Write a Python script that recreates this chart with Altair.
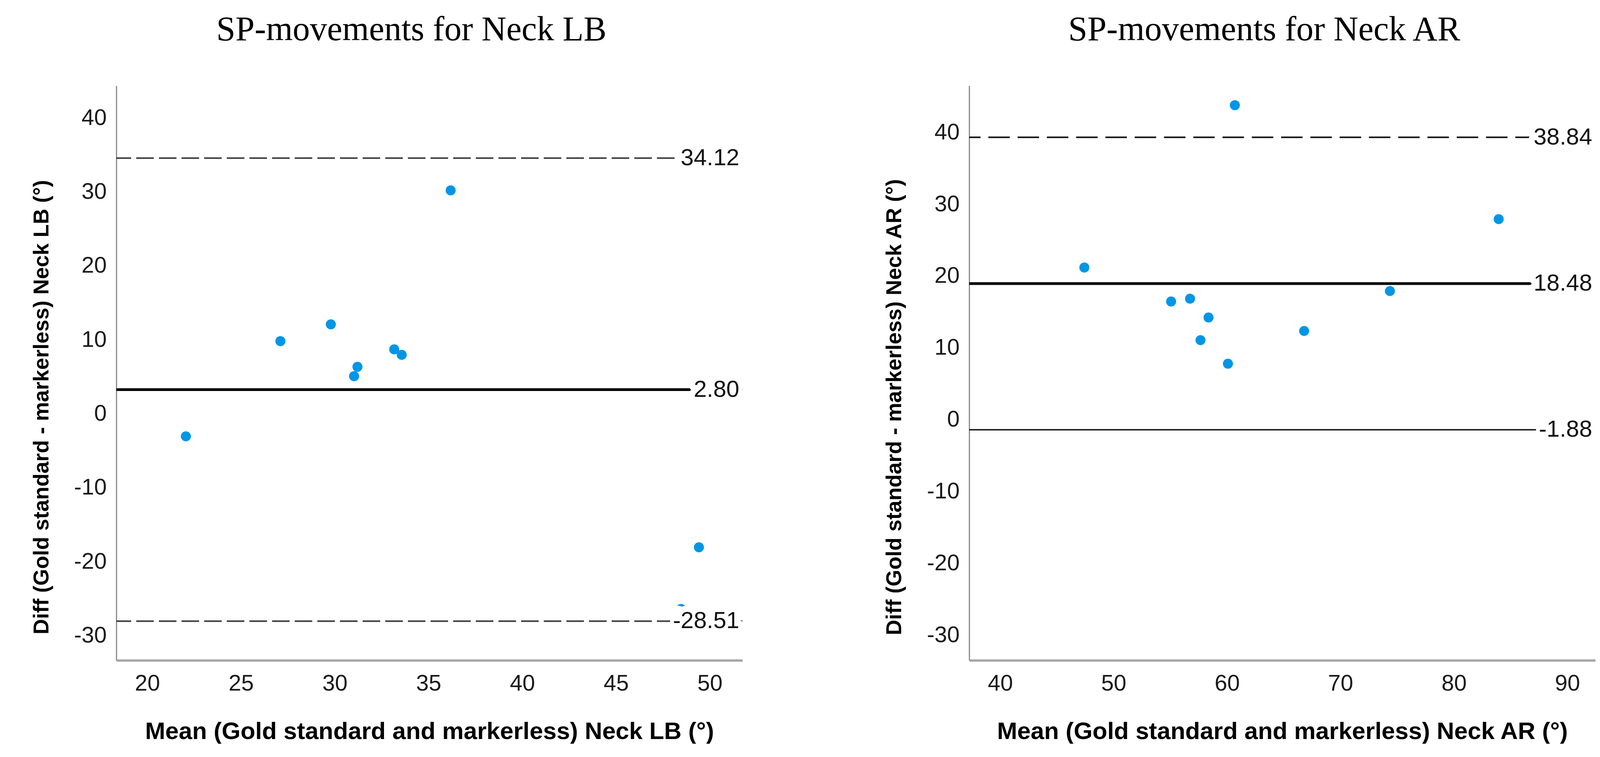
import altair as alt
import pandas as pd

# ---------------- data ----------------
# Left panel: Neck LB
lb_mean = [36.18, 29.79, 27.10, 33.17, 33.57, 31.21, 31.03, 22.06, 49.42, 48.47]
lb_diff = [29.75, 11.63, 9.36, 8.25, 7.51, 5.89, 4.62, -3.51, -18.52, -26.86]
lb_dashed = [34.12, -28.51]      # limits of agreement (dashed)
lb_bias = [2.80]                 # mean difference (thick)
lb_thin = []                     # no thin solid line
lb_x_domain = [18.35, 51.74]
lb_y_domain = [-33.80, 43.90]
lb_x_ticks = [20, 25, 30, 35, 40, 45, 50]

# Right panel: Neck AR
ar_mean = [60.69, 83.95, 47.42, 55.07, 56.74, 58.37, 57.66, 60.08, 66.80, 74.36]
ar_diff = [43.31, 27.45, 20.71, 15.98, 16.37, 13.75, 10.60, 7.32, 11.88, 17.44]
ar_dashed = [38.84]
ar_bias = [18.48]
ar_thin = [-1.88]
ar_x_domain = [37.27, 92.47]
ar_y_domain = [-33.98, 46.02]
ar_x_ticks = [40, 50, 60, 70, 80, 90]

y_ticks = [-30, -20, -10, 0, 10, 20, 30, 40]

BLUE = "#0096e6"
SANS = "Liberation Sans"
LABEL_EXPR = "datum.value < 0 ? '-' + abs(datum.value) : '' + datum.value"


def panel(title, xlabel, ylabel, means, diffs, dashed, bias, thin,
          xdom, ydom, xticks, dash_color, dash_pattern):
    x_enc = alt.X(
        "mean:Q",
        scale=alt.Scale(domain=xdom, nice=False, zero=False),
        axis=alt.Axis(values=xticks, title=xlabel, labelExpr=LABEL_EXPR),
    )
    y_enc = alt.Y(
        "diff:Q",
        scale=alt.Scale(domain=ydom, nice=False, zero=False),
        axis=alt.Axis(values=y_ticks, title=ylabel, labelExpr=LABEL_EXPR),
    )
    pts = pd.DataFrame({"mean": means, "diff": diffs})
    layers = [
        alt.Chart(pts).mark_circle(size=660, color=BLUE, opacity=1).encode(x=x_enc, y=y_enc)
    ]
    if dashed:
        layers.append(
            alt.Chart(pd.DataFrame({"diff": dashed}))
            .mark_rule(color=dash_color, strokeWidth=4, strokeDash=dash_pattern)
            .encode(y=y_enc)
        )
    if bias:
        layers.append(
            alt.Chart(pd.DataFrame({"diff": bias}))
            .mark_rule(color="#000000", strokeWidth=7)
            .encode(y=y_enc)
        )
    if thin:
        layers.append(
            alt.Chart(pd.DataFrame({"diff": thin}))
            .mark_rule(color="#111111", strokeWidth=3.5)
            .encode(y=y_enc)
        )
    vals = list(dashed) + list(bias) + list(thin)
    labels = [f"{v:.2f}" for v in vals]
    lab = pd.DataFrame({
        "diff": vals,
        "label": labels,
        # white backing box behind each label (minus replaced by a full-height glyph)
        "halo": [s.replace("-", "I") for s in labels],
    })
    layers.append(
        alt.Chart(lab)
        .mark_text(align="right", baseline="middle", dx=-8, font=SANS, fontSize=60,
                   color="white", stroke="white", strokeWidth=32, strokeJoin="round", clip=True)
        .encode(x=alt.value("width"), y=y_enc, text="halo:N")
    )
    layers.append(
        alt.Chart(lab)
        .mark_text(align="right", baseline="middle", dx=-8, font=SANS, fontSize=60,
                   color="#111111", clip=True)
        .encode(x=alt.value("width"), y=y_enc, text="label:N")
    )
    return alt.layer(*layers).properties(
        width=1604,
        height=1472,
        title=alt.TitleParams(
            text=title, font="Liberation Serif", fontSize=88, fontWeight="normal",
            color="#000000", anchor="middle", frame="group", dx=-46,
            offset=29, baseline="alphabetic",
        ),
    )


left = panel(
    "SP-movements for Neck LB",
    "Mean (Gold standard and markerless) Neck LB (°)",
    "Diff (Gold standard - markerless) Neck LB (°)",
    lb_mean, lb_diff, lb_dashed, lb_bias, lb_thin,
    lb_x_domain, lb_y_domain, lb_x_ticks, "#3c3c3c", [45, 13],
)
right = panel(
    "SP-movements for Neck AR",
    "Mean (Gold standard and markerless) Neck AR (°)",
    "Diff (Gold standard - markerless) Neck AR (°)",
    ar_mean, ar_diff, ar_dashed, ar_bias, ar_thin,
    ar_x_domain, ar_y_domain, ar_x_ticks, "#111111", [55, 20],
)

chart = (
    alt.hconcat(left, right, spacing=358)
    .properties(padding={"left": 71, "top": 24, "right": 0, "bottom": 0})
    .configure_view(stroke=None)
    .configure_axis(
        grid=False,
        ticks=False,
        labelFont=SANS,
        labelFontSize=58,
        labelColor="#1a1a1a",
        titleFont=SANS,
        titleFontWeight="bold",
        titleColor="#000000",
    )
    .configure_axisX(
        domainColor="#a8a8a8", domainWidth=6, labelPadding=31,
        titleFontSize=62, titlePadding=63,
    )
    .configure_axisY(
        domainColor="#8a8a8a", domainWidth=3, labelPadding=25, labelOffset=9,
        titleFontSize=55, titlePadding=54, titleY=823,
    )
)

chart.save("out.html", embed_options={"renderer": "svg", "actions": False})
